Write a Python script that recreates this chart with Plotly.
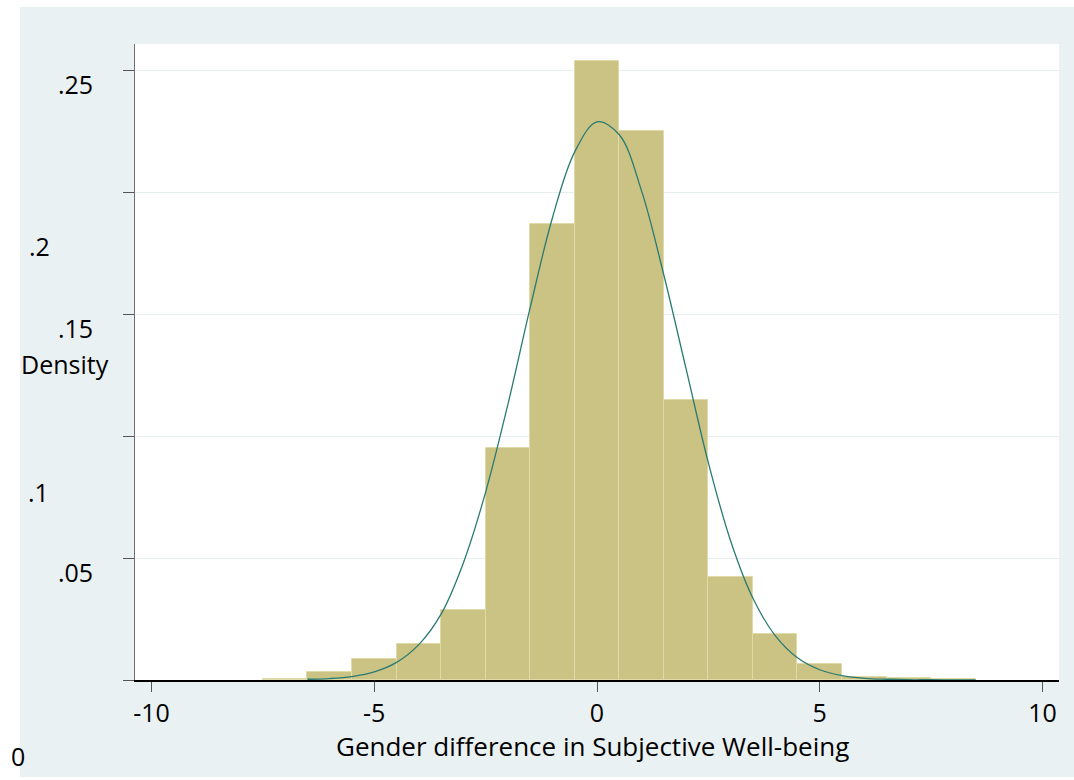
import plotly.graph_objects as go

# Histogram (bin centers, width 1) - density values
bin_centers = [-7, -6, -5, -4, -3, -2, -1, 0, 1, 2, 3, 4, 5, 6, 7, 8]
bin_density = [0.0003, 0.0032, 0.0085, 0.0146, 0.0286, 0.0952, 0.1869, 0.2537,
               0.2251, 0.1148, 0.0421, 0.0187, 0.0065, 0.0011, 0.0008, 0.0003]

# Normal density overlay
curve_x = [-6.5, -6.0, -5.5, -5.0, -4.5, -4.0, -3.5, -3.0, -2.5, -2.0, -1.5, -1.0,
           -0.5, 0.0, 0.5, 1.0, 1.5, 2.0, 2.5, 3.0, 3.5, 4.0, 4.5, 5.0, 5.5, 6.0,
           6.5, 7.0, 7.5, 8.0, 8.5]
curve_y = [0.0003, 0.0006, 0.0014, 0.0033, 0.0072, 0.0145, 0.0270, 0.0480, 0.0770,
           0.1130, 0.1526, 0.1895, 0.2165, 0.2288, 0.2235, 0.2005, 0.1660, 0.1275,
           0.0890, 0.0570, 0.0335, 0.0182, 0.0091, 0.0042, 0.0018, 0.0007, 0.0003,
           0.0001, 0.0001, 0.0000, 0.0000]

x_ticks = [-10, -5, 0, 5, 10]
y_ticks = [0, 0.05, 0.1, 0.15, 0.2, 0.25]

FONT = "Open Sans"
FS = 25
BG = "#eaf1f3"

fig = go.Figure()
fig.add_trace(go.Bar(
    x=bin_centers, y=bin_density, width=1,
    marker=dict(color="#cbc383", line=dict(color="#e0daa8", width=1)),
    showlegend=False, hoverinfo="x+y",
))
fig.add_trace(go.Scatter(
    x=curve_x, y=curve_y, mode="lines",
    line=dict(color="#2b7a72", width=1.3, shape="spline"),
    showlegend=False,
))

L, R, T, B = 135, 15, 44, 100
W, H = 1074, 780
pw, ph = W - L - R, H - T - B

def px(xp):
    return (xp - L) / pw

def py(yp):
    return (H - B - yp) / ph

# white strips around the light outer background (top, left and bottom edges)
fig.add_shape(type="rect", xref="paper", yref="paper",
              x0=px(0), x1=px(1074), y0=py(7), y1=py(0),
              fillcolor="white", line=dict(width=0), layer="below")
fig.add_shape(type="rect", xref="paper", yref="paper",
              x0=px(0), x1=px(20), y0=py(780), y1=py(0),
              fillcolor="white", line=dict(width=0), layer="below")
fig.add_shape(type="rect", xref="paper", yref="paper",
              x0=px(0), x1=px(1074), y0=py(780), y1=py(777),
              fillcolor="white", line=dict(width=0), layer="below")

# y tick labels (placed as in the reference)
ylabels = [
    (".25", 94, 84, "right"),
    (".2", 28, 246, "left"),
    (".15", 94, 328, "right"),
    ("Density", 20, 364, "left"),
    (".1", 27, 492, "left"),
    (".05", 94, 572, "right"),
    ("0", 10, 756, "left"),
]
for txt, xp, yp, anc in ylabels:
    fig.add_annotation(text=txt, xref="paper", yref="paper", x=px(xp), y=py(yp),
                       xanchor=anc, yanchor="middle", showarrow=False,
                       font=dict(family=FONT, size=FS, color="black"), borderpad=0)

fig.add_annotation(text="Gender difference in Subjective Well-being", xref="paper",
                   yref="paper", x=px(592), y=py(746), xanchor="center",
                   yanchor="middle", showarrow=False,
                   font=dict(family=FONT, size=26, color="black"), borderpad=0)

fig.update_layout(
    width=W, height=H,
    margin=dict(l=L, r=R, t=T, b=B),
    paper_bgcolor=BG, plot_bgcolor="white",
    bargap=0,
    font=dict(family=FONT, size=FS, color="black"),
    xaxis=dict(range=[-10.37, 10.37], tickvals=x_ticks, ticktext=[str(v) for v in x_ticks],
               showgrid=False, zeroline=False, showline=True, linecolor="black",
               linewidth=1.5, ticks="outside", ticklen=10, tickcolor="#555555",
               tickwidth=1.3, ticklabelstandoff=0,
               tickfont=dict(family=FONT, size=FS, color="black")),
    yaxis=dict(range=[0, 0.2607], tickvals=y_ticks, showticklabels=False,
               showgrid=True, gridcolor="#e6eef0", gridwidth=1, zeroline=False,
               showline=True, linecolor="#707070", linewidth=1.3,
               ticks="outside", ticklen=11, tickcolor="#555555", tickwidth=1.3),
)

fig.write_html("out.html", config={"displayModeBar": False},
               post_script="document.body.style.margin='0';document.body.style.padding='0';")
